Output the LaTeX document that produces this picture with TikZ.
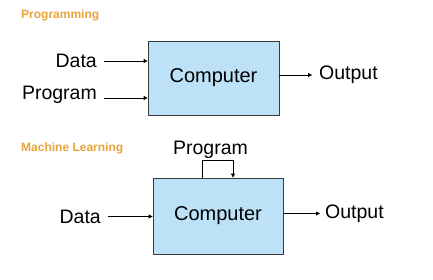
\documentclass[tikz,border=0pt]{standalone}
\usepackage{fontspec}
\setmainfont{Liberation Sans}
\usetikzlibrary{arrows.meta}

\definecolor{titleorange}{HTML}{E9A33C}
\definecolor{boxblue}{HTML}{BDE2F7}
\definecolor{boxline}{HTML}{3A3A3A}

\tikzset{
    comp/.style={draw=boxline, line width=0.8pt, fill=boxblue, font=\fontsize{20}{20}\selectfont},
    lbl/.style={inner sep=7pt, font=\fontsize{19.5}{19.5}\selectfont},
    ttl/.style={anchor=west, inner sep=0pt, text=titleorange, font=\fontsize{12}{12}\selectfont\bfseries},
    arr/.style={line width=0.8pt, -{Triangle[length=4pt,width=4pt]}}
}

\begin{document}
\begin{tikzpicture}[x=1pt, y=1pt]

    \useasboundingbox (0,0) rectangle (433,280);

    % 标题
    \node[ttl] (titleprog) at (21,265) {Programming};
    \node[ttl] (titleml) at (21,132) {Machine Learning};

    % 上面的框
    \node[comp, minimum width=131pt, minimum height=74pt] (comp1) at (213.5,202) {Computer};
    \node[lbl, anchor=east] (data1) at (104,219) {Data};
    \node[lbl, anchor=east] (prog1) at (104,185) {Program};
    \node[lbl, anchor=west] (out1) at (312,205) {Output};

    \draw[arr] (data1.east) -- (data1.east -| comp1.west);
    \draw[arr] ([yshift=-3pt]prog1.east) -- ([yshift=-3pt]prog1.east -| comp1.west);
    \draw[arr] (out1.west -| comp1.east) -- (out1.west);

    % 下面的框
    \node[comp, minimum width=130pt, minimum height=76pt] (comp2) at (218,64) {Computer};
    \node[lbl, anchor=east] (data2) at (108,63.5) {Data};
    \node[lbl, inner sep=0pt] (prog2) at (210.5,130) {Program};
    \node[lbl, inner sep=5pt, anchor=west] (out2) at (320,66.5) {Output};

    \draw[arr] (data2.east) -- (data2.east -| comp2.west);
    \draw[arr] (out2.west -| comp2.east) -- (out2.west);
    \draw[arr] ([xshift=-16pt]comp2.north) -- ++(0,17) -| ([xshift=15pt]comp2.north);

\end{tikzpicture}
\end{document}
